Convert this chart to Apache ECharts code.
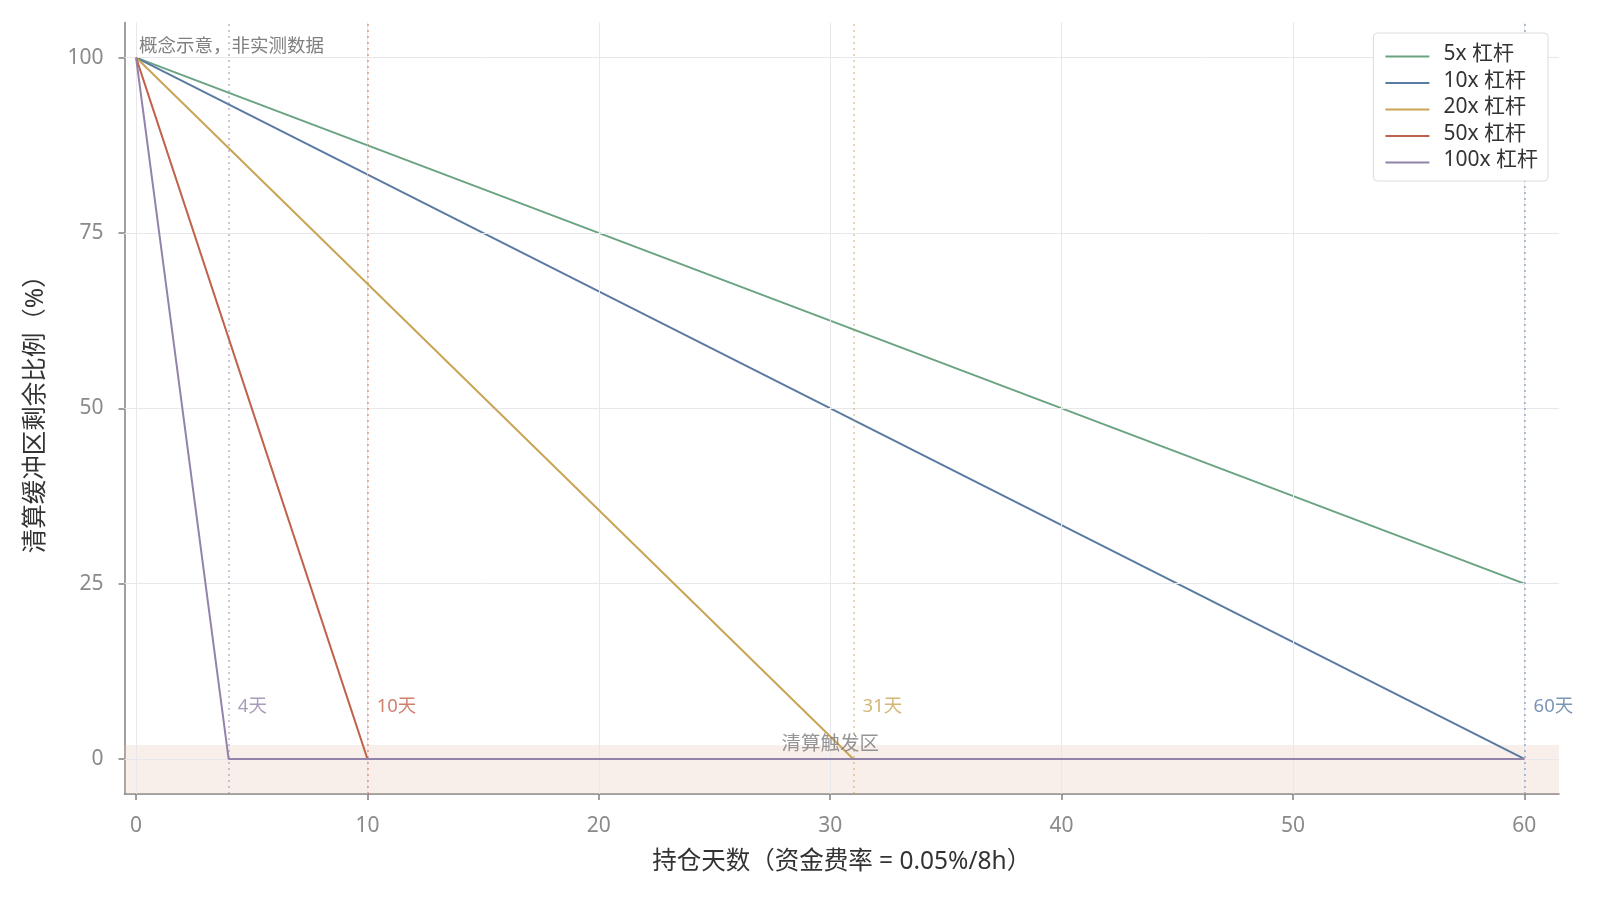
<!DOCTYPE html>
<html>
<head>
<meta charset="utf-8">
<script src="https://cdn.jsdelivr.net/npm/echarts@6/dist/echarts.min.js"></script>
<style>
  html,body{margin:0;padding:0;background:#fff;}
  #chart{width:1600px;height:898px;}
</style>
</head>
<body>
<div id="chart"></div>
<script>
// 数据
const seriesNames = ['5x 杠杆', '10x 杠杆', '20x 杠杆', '50x 杠杆', '100x 杠杆']
const seriesColors = ['#6aa382', '#5a7aa1', '#c9a455', '#c0634b', '#9283aa']
const days5 = [0, 60],     buf5 = [100, 25]
const days10 = [0, 60],    buf10 = [100, 0]
const days20 = [0, 31, 60], buf20 = [100, 0, 0]
const days50 = [0, 10, 60], buf50 = [100, 0, 0]
const days100 = [0, 4, 60], buf100 = [100, 0, 0]
const liqDays = [60, 31, 10, 4]
const liqLabels = ['60天', '31天', '10天', '4天']
const liqColors = ['#5a7aa1', '#c9a455', '#c0634b', '#9283aa']
const xTicks = [0, 10, 20, 30, 40, 50, 60]
const yTicks = [0, 25, 50, 75, 100]
const zoneRange = [-5, 2]

const FONT = '"Noto Sans", "Noto Sans CJK SC", sans-serif'

function zip(xs, ys){ return xs.map((x, i) => [x, ys[i]]) }

const lineData = [zip(days5, buf5), zip(days10, buf10), zip(days20, buf20), zip(days50, buf50), zip(days100, buf100)]

let series = lineData.map((d, i) => ({
  name: seriesNames[i],
  type: 'line',
  data: d,
  symbol: 'none',
  z: 3 + i,
  lineStyle: {color: seriesColors[i], width: 2},
  itemStyle: {color: seriesColors[i]}
}))

// 网格线、清算区
series.push({
  type: 'line',
  data: [],
  silent: true,
  z: 1,
  markLine: {
    symbol: 'none',
    silent: true,
    label: {show: false},
    data: xTicks.map(v => ({xAxis: v, lineStyle: {color: '#e8e8ec', width: 1, type: 'solid'}}))
      .concat(yTicks.map(v => ({yAxis: v, lineStyle: {color: '#e8e8ec', width: 1, type: 'solid'}})))
  },
  markArea: {
    silent: true,
    itemStyle: {color: 'rgba(230,190,170,0.25)'},
    data: [[{yAxis: zoneRange[0]}, {yAxis: zoneRange[1]}]]
  }
})
// 爆仓日竖线
series.push({
  type: 'line',
  data: [],
  silent: true,
  z: 2,
  markLine: {
    symbol: 'none',
    silent: true,
    label: {show: false},
    data: liqDays.map((v, i) => ({xAxis: v, lineStyle: {color: liqColors[i], opacity: 0.6, width: 1.5, type: [2, 4]}}))
  }
})
// 文字标注
series.push({
  type: 'scatter',
  silent: true,
  symbolSize: 0,
  z: 10,
  data: liqDays.map((v, i) => ({
    value: [v + 0.4, 7.4],
    label: {show: true, formatter: liqLabels[i], position: 'inside', align: 'left', color: liqColors[i], fontSize: 18.5, fontFamily: FONT}
  })).concat([{
    value: [30, 2],
    label: {show: true, formatter: '清算触发区', position: 'inside', align: 'center', color: '#7a7a7a', fontSize: 19.5, fontFamily: FONT}
  }])
})

const axisCommon = {
  type: 'value',
  axisLine: {show: true, onZero: false, lineStyle: {color: '#808080', width: 1.5}},
  axisTick: {show: true, length: 6, lineStyle: {color: '#808080', width: 1.5}},
  axisLabel: {color: '#8a8a8a', fontSize: 21, fontFamily: FONT},
  splitLine: {show: false},
  nameLocation: 'middle',
  nameTextStyle: {color: '#333', fontSize: 24.5, fontFamily: FONT}
}

const option = {
  animation: false,
  backgroundColor: '#fff',
  grid: {left: 124.5, right: 41, top: 22.5, bottom: 104},
  xAxis: Object.assign({}, axisCommon, {
    min: -0.5, max: 61.5,
    name: '持仓天数（资金费率 = 0.05%/8h）',
    nameGap: 56,
    axisTick: Object.assign({}, axisCommon.axisTick, {customValues: xTicks}),
    axisLabel: Object.assign({}, axisCommon.axisLabel, {customValues: xTicks, margin: 22})
  }),
  yAxis: Object.assign({}, axisCommon, {
    min: -5, max: 105,
    name: '清算缓冲区剩余比例（%）',
    nameGap: 76,
    axisTick: Object.assign({}, axisCommon.axisTick, {customValues: yTicks}),
    axisLabel: Object.assign({}, axisCommon.axisLabel, {customValues: yTicks, margin: 21})
  }),
  legend: {
    data: seriesNames,
    orient: 'vertical',
    right: 52,
    top: 33,
    z: 20,
    backgroundColor: '#fff',
    borderColor: '#dcdce0',
    borderWidth: 1,
    borderRadius: 4,
    padding: [11, 10, 10, 12],
    itemWidth: 53,
    itemHeight: 10,
    itemGap: 5.5,
    // 图标线段44宽，右侧留空让文字与线保持间距
    icon: 'path://M0,4 L44,4 L44,6 L0,6 Z M53,0 L53,0.01 L52.99,0 Z',
    textStyle: {color: '#333', fontSize: 21, fontFamily: FONT}
  },
  graphic: [{
    type: 'text',
    left: 139,
    top: 37.5,
    style: {text: '概念示意，非实测数据', fill: '#808080', fontSize: 18.5, fontFamily: FONT}
  }],
  series: series
}

const myChart = echarts.init(document.getElementById('chart'))
myChart.setOption(option)
</script>
</body>
</html>
